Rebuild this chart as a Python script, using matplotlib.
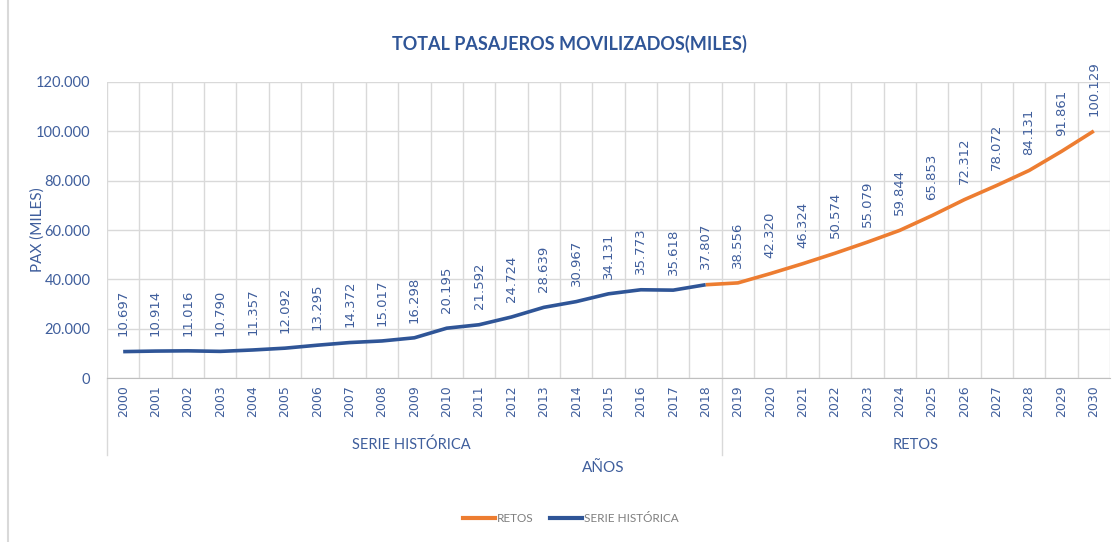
import numpy as np
import matplotlib.pyplot as plt
from matplotlib.lines import Line2D
from matplotlib.ticker import FuncFormatter

years = list(range(2000, 2031))
historica = [10697, 10914, 11016, 10790, 11357, 12092, 13295, 14372, 15017, 16298,
             20195, 21592, 24724, 28639, 30967, 34131, 35773, 35618, 37807]
retos = [37807, 38556, 42320, 46324, 50574, 55079, 59844, 65853, 72312, 78072,
         84131, 91861, 100129]
groups = ['SERIE HISTÓRICA', 'RETOS']

blue = '#2F5597'
orange = '#ED7D31'
txt = '#3F5E9C'
grid = '#D9D9D9'

fig = plt.figure(figsize=(11.17, 5.42), dpi=100)
ax = fig.add_axes([107/1117, 164/542, 1003/1117, 296/542])

x_hist = np.arange(len(historica))
x_ret = np.arange(len(historica) - 1, len(years))

ax.plot(x_ret, retos, color=orange, lw=2.6, solid_capstyle='butt', zorder=3)
ax.plot(x_hist, historica, color=blue, lw=2.6, solid_capstyle='butt', zorder=4)

# data labels (2018 shared between series, label it once)
vals = historica + retos[1:]
for i, v in enumerate(vals):
    lbl = f'{v:,}'.replace(',', '.')
    ax.annotate(lbl, (i, v), xytext=(0, 11), textcoords='offset points',
                rotation=90, ha='center', va='bottom', fontsize=9.5,
                color=txt, family='DejaVu Sans')

ax.set_xlim(-0.5, len(years) - 0.5)
ax.set_ylim(0, 120000)
ax.set_yticks(np.arange(0, 120001, 20000))
ax.yaxis.set_major_formatter(FuncFormatter(lambda v, p: f'{int(v):,}'.replace(',', '.')))
ax.set_xticks(np.arange(len(years)))
ax.set_xticklabels([str(y) for y in years], rotation=90, fontsize=9,
                   color=txt, family='DejaVu Sans')
ax.set_xticks(np.arange(len(years) + 1) - 0.5, minor=True)
ax.tick_params(axis='x', which='both', length=0, pad=5)
ax.tick_params(axis='y', length=0, pad=12, labelsize=10.5, labelcolor=txt)
for t in ax.get_yticklabels():
    t.set_family('Lato')

ax.grid(axis='y', color=grid, lw=1)
ax.grid(axis='x', which='minor', color=grid, lw=1)
ax.grid(axis='x', which='major', visible=False)
for s in ['top', 'right', 'left']:
    ax.spines[s].set_visible(False)
ax.spines['bottom'].set_color('#BFBFBF')

# multi-level category axis
trans = ax.get_xaxis_transform()
for xs in [-0.5, 18.5]:
    ax.add_line(Line2D([xs, xs], [0, -0.26], transform=trans, color=grid,
                       lw=1, clip_on=False))
ax.text(8.9, -0.225, groups[0], transform=trans, ha='center', va='center',
        fontsize=10.5, color=txt, family='Lato')
ax.text(24.5, -0.225, groups[1], transform=trans, ha='center', va='center',
        fontsize=10.5, color=txt, family='Lato')

fig.text(603/1117, 1 - 468/542, 'AÑOS', ha='center', va='center',
         fontsize=11, color=txt, family='Lato')
fig.text(38/1117, 1 - 230/542, 'PAX (MILES)', rotation=90, ha='center',
         va='center', fontsize=11, color=txt, family='Lato')
fig.text(569/1117, 1 - 44/542, 'TOTAL PASAJEROS MOVILIZADOS(MILES)',
         ha='center', va='center', fontsize=13, fontweight='bold',
         color=blue, family='Lato')

# chart border on the left
fig.add_artist(Line2D([8/1117, 8/1117], [0, 1], color=grid, lw=1.5))

handles = [Line2D([], [], color=orange, lw=3), Line2D([], [], color=blue, lw=3)]
leg = fig.legend(handles, ['RETOS', 'SERIE HISTÓRICA'], loc='center',
                 bbox_to_anchor=(571/1117, 1 - 519/542), ncol=2, frameon=False,
                 handlelength=2.7, handletextpad=0.15, columnspacing=1.4,
                 prop={'family': 'Lato', 'size': 8.5})
for t in leg.get_texts():
    t.set_color('#7F7F7F')

fig.savefig('out.png', dpi=100)
